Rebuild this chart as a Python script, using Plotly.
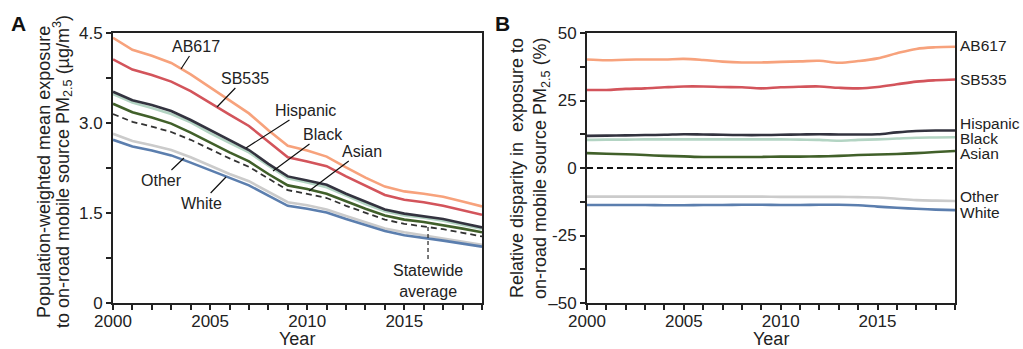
import plotly.graph_objects as go

years = list(range(2000, 2020))

# Panel A: population-weighted mean exposure (ug/m3)
a_ab617 = [4.42, 4.22, 4.12, 4.00, 3.81, 3.59, 3.37, 3.16, 2.88, 2.62, 2.54, 2.44, 2.26, 2.09, 1.94, 1.86, 1.82, 1.77, 1.69, 1.61]
a_sb535 = [4.06, 3.89, 3.80, 3.69, 3.53, 3.33, 3.14, 2.95, 2.69, 2.43, 2.36, 2.28, 2.11, 1.95, 1.80, 1.72, 1.68, 1.62, 1.55, 1.47]
a_hispanic = [3.52, 3.38, 3.30, 3.20, 3.05, 2.88, 2.71, 2.55, 2.32, 2.11, 2.04, 1.97, 1.82, 1.69, 1.56, 1.49, 1.45, 1.40, 1.33, 1.26]
a_black = [3.48, 3.34, 3.25, 3.15, 3.01, 2.83, 2.67, 2.51, 2.29, 2.08, 2.01, 1.93, 1.79, 1.65, 1.53, 1.46, 1.42, 1.37, 1.30, 1.24]
a_asian = [3.32, 3.18, 3.09, 2.99, 2.84, 2.67, 2.51, 2.36, 2.15, 1.96, 1.90, 1.82, 1.69, 1.57, 1.46, 1.39, 1.35, 1.30, 1.24, 1.18]
a_statewide = [3.15, 3.02, 2.94, 2.85, 2.72, 2.56, 2.41, 2.27, 2.07, 1.88, 1.82, 1.75, 1.62, 1.50, 1.39, 1.32, 1.28, 1.23, 1.17, 1.11]
a_other = [2.82, 2.70, 2.63, 2.55, 2.43, 2.29, 2.15, 2.03, 1.85, 1.68, 1.63, 1.56, 1.45, 1.34, 1.24, 1.18, 1.13, 1.08, 1.03, 0.97]
a_white = [2.72, 2.61, 2.54, 2.46, 2.34, 2.21, 2.08, 1.96, 1.79, 1.62, 1.57, 1.51, 1.40, 1.30, 1.20, 1.13, 1.09, 1.04, 0.99, 0.94]

# Panel B: relative disparity (%)
b_ab617 = [40.2, 39.9, 40.1, 40.2, 40.2, 40.4, 40.0, 39.4, 39.1, 39.1, 39.3, 39.5, 39.7, 39.0, 39.6, 40.6, 42.5, 44.1, 44.7, 44.9]
b_sb535 = [28.9, 28.9, 29.3, 29.5, 29.9, 30.2, 30.2, 30.0, 29.9, 29.5, 29.9, 30.1, 30.2, 29.7, 29.5, 30.0, 31.0, 32.0, 32.5, 32.8]
b_hispanic = [11.9, 12.0, 12.1, 12.2, 12.3, 12.5, 12.4, 12.3, 12.2, 12.2, 12.3, 12.4, 12.5, 12.4, 12.4, 12.5, 13.2, 13.7, 13.9, 13.9]
b_black = [10.4, 10.5, 10.5, 10.6, 10.6, 10.6, 10.6, 10.6, 10.6, 10.6, 10.6, 10.5, 10.4, 10.1, 10.4, 10.6, 10.9, 11.2, 11.3, 11.4]
b_asian = [5.5, 5.3, 5.1, 4.8, 4.5, 4.3, 4.1, 4.1, 4.1, 4.1, 4.2, 4.2, 4.3, 4.5, 4.8, 5.0, 5.2, 5.5, 5.9, 6.3]
b_zero = [0] * 20
b_other = [-10.6, -10.6, -10.6, -10.6, -10.6, -10.6, -10.6, -10.6, -10.6, -10.6, -10.7, -10.7, -10.7, -10.7, -10.8, -10.9, -11.4, -11.9, -12.1, -12.2]
b_white = [-13.7, -13.7, -13.7, -13.7, -13.8, -13.8, -13.7, -13.7, -13.6, -13.6, -13.7, -13.7, -13.6, -13.6, -13.8, -14.3, -14.7, -15.1, -15.4, -15.6]

# Right-side label positions for panel B
b_label_names = ["AB617", "SB535", "Hispanic", "Black", "Asian", "Other", "White"]
b_label_y = [45.2, 32.6, 16.5, 11.0, 5.4, -10.4, -16.4]

colors = {
    "AB617": "#f7a27c",
    "SB535": "#d3545b",
    "Hispanic": "#33333f",
    "Black": "#b3d4c3",
    "Asian": "#41602a",
    "Other": "#cbcbcb",
    "White": "#5b7eae",
}

FONT = "Liberation Sans, Arial, Helvetica, sans-serif"
TXT = "#222222"
W, H = 1023, 349

fig = go.Figure()

order_a = [("Other", a_other), ("White", a_white), ("Statewide", a_statewide), ("Asian", a_asian),
           ("Black", a_black), ("Hispanic", a_hispanic), ("SB535", a_sb535), ("AB617", a_ab617)]
for name, vals in order_a:
    if name == "Statewide":
        line = dict(color="#333333", width=1.8, dash="6px,4px")
    else:
        line = dict(color=colors[name], width=2.6)
    fig.add_trace(go.Scatter(x=years, y=vals, mode="lines", line=line, xaxis="x", yaxis="y",
                             showlegend=False, hoverinfo="skip"))

order_b = [("Other", b_other), ("White", b_white), ("Zero", b_zero), ("Asian", b_asian),
           ("Black", b_black), ("Hispanic", b_hispanic), ("SB535", b_sb535), ("AB617", b_ab617)]
for name, vals in order_b:
    if name == "Zero":
        line = dict(color="#111111", width=1.8, dash="6px,4px")
    else:
        line = dict(color=colors[name], width=2.6, shape="spline", smoothing=1)
    fig.add_trace(go.Scatter(x=years, y=vals, mode="lines", line=line, xaxis="x2", yaxis="y2",
                             showlegend=False, hoverinfo="skip"))

xtickvals = years
xticktext = [str(y) if y % 5 == 0 else "" for y in years]

common_axis = dict(showline=True, linewidth=2, linecolor=TXT, mirror=True, ticks="outside",
                   ticklen=5, tickwidth=1.5, tickcolor=TXT, showgrid=False, zeroline=False,
                   automargin=False, tickfont=dict(family=FONT, size=17, color=TXT))

fig.update_layout(
    width=W, height=H,
    margin=dict(l=0, r=0, t=0, b=0, pad=0, autoexpand=False),
    paper_bgcolor="white", plot_bgcolor="white",
    font=dict(family=FONT, color=TXT),
    xaxis=dict(domain=[113 / W, 482 / W], range=[2000, 2019], tickmode="array",
               tickvals=xtickvals, ticktext=xticktext, anchor="y", ticklabelstandoff=-3,
               **common_axis),
    yaxis=dict(domain=[1 - 303 / H, 1 - 33 / H], range=[0, 4.5], tickmode="array",
               tickvals=[0, 0.75, 1.5, 2.25, 3.0, 3.75, 4.5],
               ticktext=["0", "", "1.5", "", "3.0", "", "4.5"], anchor="x", **common_axis),
    xaxis2=dict(domain=[587 / W, 955 / W], range=[2000, 2019], tickmode="array",
                tickvals=xtickvals, ticktext=xticktext, anchor="y2", ticklabelstandoff=-3,
                **common_axis),
    yaxis2=dict(domain=[1 - 303 / H, 1 - 33 / H], range=[-50, 50], tickmode="array",
                tickvals=[-50, -37.5, -25, -12.5, 0, 12.5, 25, 37.5, 50],
                ticktext=["\u201350", "", "-25", "", "0", "", "25", "", "50"], anchor="x2",
                **common_axis),
)

annotations = []

def paper(px, py):
    return px / W, 1 - py / H

# Panel letters
for letter, px in (("A", 18), ("B", 502)):
    x, y = paper(px, 24)
    annotations.append(dict(text="<b>%s</b>" % letter, xref="paper", yref="paper", x=x, y=y,
                            xanchor="center", yanchor="middle", showarrow=False,
                            font=dict(family=FONT, size=21, color="#111")))

# X titles
for px in (297, 771):
    x, y = paper(px, 339)
    annotations.append(dict(text="Year", xref="paper", yref="paper", x=x, y=y,
                            xanchor="center", yanchor="middle", showarrow=False, borderpad=0,
                            font=dict(family=FONT, size=18, color=TXT)))

# Y titles (each line separately)
ytitles = [
    ("Population-weighted mean exposure", 44, 172),
    ("to on-road mobile source PM<sub>2.5</sub> (\u00b5g/m<sup>3</sup>)", 62, 172),
    ("Relative disparity in  exposure to", 517, 168),
    ("on-road mobile source PM<sub>2.5</sub> (%)", 542, 168),
]
for txt, px, py in ytitles:
    x, y = paper(px, py)
    annotations.append(dict(text=txt, xref="paper", yref="paper", x=x, y=y,
                            xanchor="center", yanchor="middle", textangle=-90, showarrow=False,
                            font=dict(family=FONT, size=18, color=TXT)))

# Panel A labels with leader lines
def px2a(px, py):
    return 2000 + (px - 113) / 19.42, (303 - py) / 60.0

a_labels = [
    ("AB617", (181, 69), (196, 46)),
    ("SB535", (217, 107), (245, 78)),
    ("Hispanic", (246, 148), (305, 110)),
    ("Black", (273, 171), (323, 134)),
    ("Asian", (309, 191), (362, 151)),
    ("Other", (184, 158), (161, 180)),
    ("White", (226, 177), (201, 203)),
]
for txt, pt, tp in a_labels:
    x0, y0 = px2a(*pt)
    x1, y1 = px2a(*tp)
    annotations.append(dict(text=txt, xref="x", yref="y", x=x0, y=y0, axref="x", ayref="y",
                            ax=x1, ay=y1, showarrow=True, arrowhead=0, arrowwidth=1.2,
                            arrowcolor="#111", font=dict(family=FONT, size=16, color=TXT)))

sx, sy = px2a(428, 281)
annotations.append(dict(text="Statewide<br>average", xref="x", yref="y", x=sx, y=sy,
                        showarrow=False, xanchor="center", yanchor="middle",
                        font=dict(family=FONT, size=16, color=TXT)))

# Panel B right-side labels
for name, yv in zip(b_label_names, b_label_y):
    annotations.append(dict(text=name, xref="x2", yref="y2", x=2019, y=yv, xanchor="left",
                            yanchor="middle", xshift=4, showarrow=False, borderpad=0,
                            font=dict(family=FONT, size=15.5, color=TXT)))

fig.update_layout(annotations=annotations)

lx0, ly0 = px2a(428, 227)
lx1, ly1 = px2a(428, 261)
fig.add_shape(type="line", xref="x", yref="y", x0=lx0, y0=ly0, x1=lx1, y1=ly1,
              line=dict(color="#222", width=1.2, dash="4px,3px"))

fig.write_html("out.html", config={"displayModeBar": False},
               post_script="document.body.style.margin='0px';document.body.style.overflow='hidden';")
